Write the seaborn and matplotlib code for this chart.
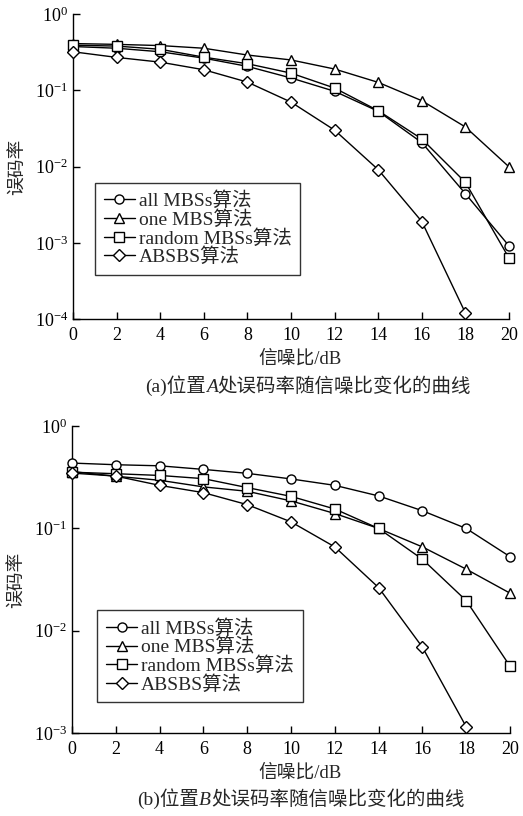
import numpy as np
import pandas as pd
import matplotlib
matplotlib.use('Agg')
import matplotlib.pyplot as plt
from matplotlib.ticker import LogLocator, NullLocator
import seaborn as sns

snr = [0, 2, 4, 6, 8, 10, 12, 14, 16, 18, 20]
names = ['all MBSs算法', 'one MBS算法', 'random MBSs算法', 'ABSBS算法']

# position A
a_all = [0.375, 0.356, 0.32, 0.264, 0.206, 0.145, 0.097, 0.053, 0.0206, 0.0044, 0.00091]
a_one = [0.41, 0.40, 0.386, 0.356, 0.29, 0.25, 0.19, 0.127, 0.073, 0.033, 0.0099]
a_rand = [0.39, 0.38, 0.345, 0.272, 0.223, 0.168, 0.107, 0.054, 0.023, 0.0062, 0.00063]
a_absbs = [0.32, 0.27, 0.234, 0.186, 0.128, 0.07, 0.030, 0.0091, 0.0019, 0.00012]

# position B
b_all = [0.436, 0.42, 0.41, 0.378, 0.346, 0.305, 0.264, 0.208, 0.149, 0.1, 0.053]
b_one = [0.36, 0.324, 0.296, 0.255, 0.231, 0.186, 0.14, 0.1, 0.066, 0.04, 0.0233]
b_rand = [0.355, 0.343, 0.33, 0.307, 0.251, 0.206, 0.155, 0.1, 0.05, 0.0197, 0.0045]
b_absbs = [0.348, 0.325, 0.264, 0.224, 0.171, 0.116, 0.066, 0.0264, 0.0069, 0.00115]

markers = dict(zip(names, ['o', '^', 's', 'D']))
msizes = dict(zip(names, [7.5, 8, 7.5, 6]))

sns.set_style('ticks')
plt.rcParams['font.family'] = ['Liberation Serif', 'Noto Sans CJK SC']
plt.rcParams['mathtext.fontset'] = 'custom'
plt.rcParams['mathtext.rm'] = 'Liberation Serif'
plt.rcParams['mathtext.it'] = 'Liberation Serif:italic'
plt.rcParams['axes.unicode_minus'] = True


def make_df(series):
    rows = []
    for name, vals in zip(names, series):
        for x, v in zip(snr, vals):
            rows.append({'SNR': x, 'BER': v, '算法': name})
    return pd.DataFrame(rows)


def draw(ax, series, ymin, leg_box):
    df = make_df(series)
    for name in names:
        sub = df[df['算法'] == name]
        sns.lineplot(data=sub, x='SNR', y='BER', ax=ax, color='k', lw=1.0,
                     marker=markers[name], markersize=msizes[name],
                     markerfacecolor='white', markeredgecolor='k',
                     markeredgewidth=1.0, label=name, clip_on=False, zorder=3)
    ax.set_yscale('log')
    ax.set_xlim(0, 20)
    ax.set_ylim(ymin, 1)
    ax.set_xticks(snr)
    ax.yaxis.set_major_locator(LogLocator(base=10, numticks=10))
    ax.yaxis.set_minor_locator(NullLocator())
    ax.tick_params(direction='in', length=5, width=1, labelsize=13, colors='k')
    ax.tick_params(axis='x', pad=6)
    sns.despine(ax=ax)
    for s in ['left', 'bottom']:
        ax.spines[s].set_linewidth(1.0)
        ax.spines[s].set_color('k')
    ax.set_xlabel('信噪比/dB', fontsize=13.5, labelpad=4, x=0.52)
    ax.set_ylabel('误码率', fontsize=13.5, labelpad=6)
    h, l = ax.get_legend_handles_labels()
    for hh in h:
        hh.set_markersize(6.5)
    leg = ax.legend(h, l, loc='lower left', bbox_to_anchor=leg_box, fontsize=14,
                    frameon=True, fancybox=False, edgecolor='k', handlelength=1.6,
                    handletextpad=0.2, labelspacing=0.0, borderpad=0.45,
                    borderaxespad=0)
    leg.get_frame().set_linewidth(1.0)


def caption(fig, x_center, y, parts):
    # parts: list of (text, style); placed one after another, centred as a group
    r = fig.canvas.get_renderer()
    texts = []
    widths = []
    for s, st in parts:
        t = fig.text(0, y, s, fontsize=14, style=st, ha='left', va='baseline')
        widths.append(t.get_window_extent(renderer=r).width)
        texts.append(t)
    x0 = x_center * fig.bbox.width - sum(widths) / 2
    for t, w in zip(texts, widths):
        t.set_x(x0 / fig.bbox.width)
        x0 += w


fig = plt.figure(figsize=(5.23, 8.16), dpi=100)
ax1 = fig.add_axes([0.1396, 0.609, 0.8337, 0.3738])
ax2 = fig.add_axes([0.1377, 0.1017, 0.8375, 0.376])

draw(ax1, [a_all, a_one, a_rand, a_absbs], 1e-4, (0.05, 0.145))
draw(ax2, [b_all, b_one, b_rand, b_absbs], 1e-3, (0.058, 0.1))

caption(fig, 0.589, 0.52, [('(a)位置', 'normal'), ('A', 'italic'), ('处误码率随信噪比变化的曲线', 'normal')])
caption(fig, 0.575, 0.014, [('(b)位置', 'normal'), ('B', 'italic'), ('处误码率随信噪比变化的曲线', 'normal')])

fig.savefig('out.png', dpi=100, facecolor='white')
